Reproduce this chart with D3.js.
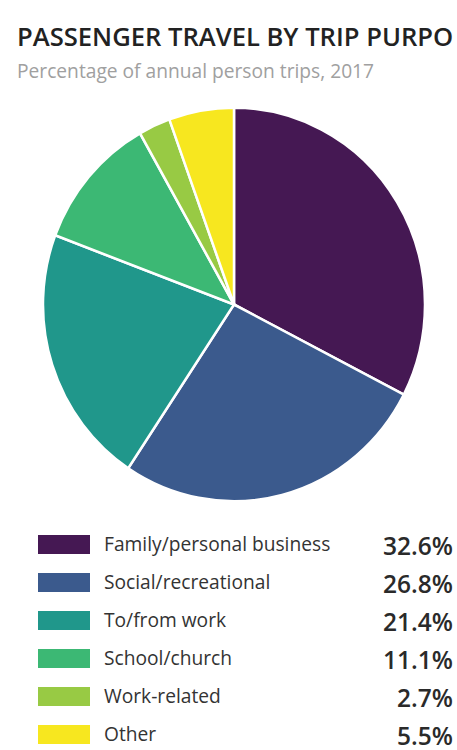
<!DOCTYPE html>
<html>
<head>
<meta charset="utf-8">
<script src="https://cdn.jsdelivr.net/npm/d3@7"></script>
<style>
  body { margin: 0; background: #fff; }
  svg { display: block; font-family: "Open Sans", "Noto Sans", sans-serif; }
</style>
</head>
<body>
<div id="chart"></div>
<script>
// Data
const categories = ["Family/personal business", "Social/recreational", "To/from work", "School/church", "Work-related", "Other"];
const shares = [32.6, 26.8, 21.4, 11.1, 2.7, 5.5];
const colors = ["#451853", "#3b5a8d", "#20978b", "#3cb874", "#98ca44", "#f7e71f"];

const width = 457, height = 750;

const svg = d3.select("#chart").append("svg")
  .attr("width", width)
  .attr("height", height);

// Title and subtitle (the original title is cut at the right edge, keep what shows)
svg.append("text")
  .attr("x", 17)
  .attr("y", 46)
  .attr("font-size", "25.6px")
  .attr("font-weight", 600)
  .attr("fill", "#222")
  .text("PASSENGER TRAVEL BY TRIP PURPO");

svg.append("text")
  .attr("x", 17)
  .attr("y", 78)
  .attr("font-size", "19.2px")
  .attr("fill", "#a0a0a0")
  .text("Percentage of annual person trips, 2017");

// Pie
const cx = 234, cy = 304.5, radius = 191;

const pie = d3.pie().sort(null).value(d => d);
const arc = d3.arc().innerRadius(0).outerRadius(radius);

const g = svg.append("g")
  .attr("transform", `translate(${cx},${cy}) scale(1,1.03)`);

g.selectAll("path")
  .data(pie(shares))
  .enter().append("path")
  .attr("d", arc)
  .attr("fill", (d, i) => colors[i])
  .attr("stroke", "#fff")
  .attr("stroke-width", 2.5);

// Legend
const legendTop = 544.5, rowGap = 38;

const row = svg.selectAll("g.legend")
  .data(categories)
  .enter().append("g")
  .attr("class", "legend")
  .attr("transform", (d, i) => `translate(0,${legendTop + i * rowGap})`);

row.append("rect")
  .attr("x", 38)
  .attr("y", -9.5)
  .attr("width", 52)
  .attr("height", 19)
  .attr("fill", (d, i) => colors[i]);

row.append("text")
  .attr("x", 104)
  .attr("y", 6.5)
  .attr("font-size", "19.2px")
  .attr("fill", "#333")
  .text(d => d);

row.append("text")
  .attr("x", 453)
  .attr("y", 10)
  .attr("text-anchor", "end")
  .attr("font-size", "24.5px")
  .attr("font-weight", 600)
  .attr("fill", "#2a2a2a")
  .text((d, i) => shares[i].toFixed(1) + "%");
</script>
</body>
</html>
